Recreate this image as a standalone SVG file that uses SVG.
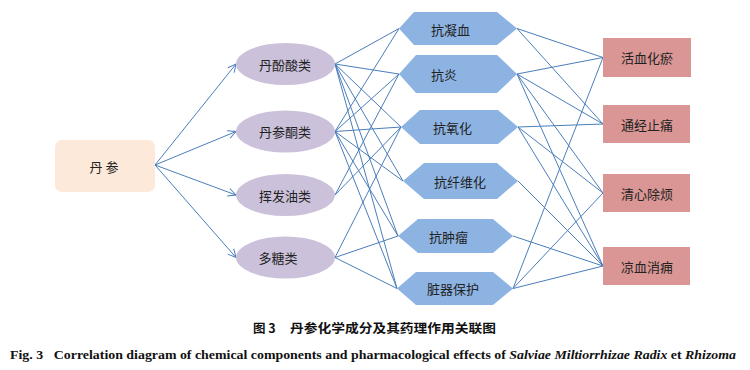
<svg xmlns="http://www.w3.org/2000/svg" width="750" height="370" viewBox="0 0 750 370">
<defs>
<marker id="arr" markerWidth="10" markerHeight="10" refX="9" refY="5" orient="auto" markerUnits="userSpaceOnUse">
<path d="M1,1 L9,5 L1,9" fill="none" stroke="#4a7ebb" stroke-width="1"/>
</marker>
</defs>
<style>
.lbl{font-family:"Noto Sans CJK SC","Noto Sans",sans-serif;font-size:13px;fill:#222;dominant-baseline:central}
.ell{fill:#ccc1da}
.hex{fill:#8db3e2}
.eff{fill:#d99694}
.src{fill:#fde9d9}
.con line{stroke:#4a7ebb;stroke-width:1;fill:none}
.cap{font-weight:bold;fill:#111}
</style>
<rect width="750" height="370" fill="#fff"/>
<g class="con" id="connectors">
<line x1="155" y1="165" x2="236" y2="64" marker-end="url(#arr)"/>
<line x1="155" y1="165" x2="236" y2="131.5" marker-end="url(#arr)"/>
<line x1="155" y1="165" x2="236" y2="195" marker-end="url(#arr)"/>
<line x1="155" y1="165" x2="236" y2="257.5" marker-end="url(#arr)"/>
<line x1="335" y1="64" x2="399" y2="28.5"/>
<line x1="335" y1="64" x2="399" y2="74"/>
<line x1="335" y1="64" x2="401" y2="127"/>
<line x1="335" y1="64" x2="403" y2="181"/>
<line x1="335" y1="64" x2="398" y2="236"/>
<line x1="335" y1="64" x2="397" y2="288.5"/>
<line x1="335" y1="131.5" x2="399" y2="28.5"/>
<line x1="335" y1="131.5" x2="399" y2="74"/>
<line x1="335" y1="131.5" x2="401" y2="127"/>
<line x1="335" y1="131.5" x2="403" y2="181"/>
<line x1="335" y1="131.5" x2="398" y2="236"/>
<line x1="335" y1="131.5" x2="397" y2="288.5"/>
<line x1="335" y1="195" x2="399" y2="74"/>
<line x1="335" y1="195" x2="401" y2="127"/>
<line x1="335" y1="257.5" x2="401" y2="127"/>
<line x1="335" y1="257.5" x2="398" y2="236"/>
<line x1="335" y1="257.5" x2="397" y2="288.5"/>
<line x1="517" y1="28.5" x2="603" y2="57.5"/>
<line x1="517" y1="28.5" x2="603" y2="124"/>
<line x1="517" y1="74" x2="603" y2="57.5"/>
<line x1="517" y1="74" x2="603" y2="124"/>
<line x1="517" y1="74" x2="603" y2="193"/>
<line x1="517" y1="74" x2="603" y2="266"/>
<line x1="518" y1="127" x2="603" y2="124"/>
<line x1="518" y1="127" x2="603" y2="193"/>
<line x1="518" y1="127" x2="603" y2="266"/>
<line x1="518" y1="181" x2="603" y2="266"/>
<line x1="513" y1="236" x2="603" y2="266"/>
<line x1="513" y1="288.5" x2="603" y2="57.5"/>
<line x1="513" y1="288.5" x2="603" y2="193"/>
<line x1="513" y1="288.5" x2="603" y2="266"/>
</g>
<g id="danshen"><rect class="src" x="55" y="140" width="100" height="52" rx="7"/><text class="lbl" x="104" y="166" text-anchor="middle">丹 参</text></g>
<g id="c1"><ellipse class="ell" cx="285.5" cy="64" rx="49.5" ry="21"/><text class="lbl" x="285" y="64" text-anchor="middle">丹酚酸类</text></g>
<g id="c2"><ellipse class="ell" cx="285.5" cy="131.5" rx="49.5" ry="21"/><text class="lbl" x="285" y="131.5" text-anchor="middle">丹参酮类</text></g>
<g id="c3"><ellipse class="ell" cx="285.5" cy="195" rx="49.5" ry="21"/><text class="lbl" x="285" y="195" text-anchor="middle">挥发油类</text></g>
<g id="c4"><ellipse class="ell" cx="285.5" cy="257.5" rx="49.5" ry="21"/><text class="lbl" x="278" y="257.5" text-anchor="middle">多糖类</text></g>
<g id="p1"><polygon class="hex" points="399,28.5 414,12 497,12 517,28.5 497,45 414,45"/><text class="lbl" x="431" y="29">抗凝血</text></g>
<g id="p2"><polygon class="hex" points="399,74 416,55 497,55 517,74 497,93 416,93"/><text class="lbl" x="431" y="74">抗炎</text></g>
<g id="p3"><polygon class="hex" points="401,127 420,110 498,110 518,127 498,144 420,144"/><text class="lbl" x="433" y="127">抗氧化</text></g>
<g id="p4"><polygon class="hex" points="403,181 424,163 497,163 518,181 497,199 424,199"/><text class="lbl" x="434" y="181">抗纤维化</text></g>
<g id="p5"><polygon class="hex" points="398,236 418,219 493,219 513,236 493,253 418,253"/><text class="lbl" x="429" y="236">抗肿瘤</text></g>
<g id="p6"><polygon class="hex" points="397,288.5 416,272 493,272 513,288.5 493,305 416,305"/><text class="lbl" x="427" y="288.5">脏器保护</text></g>
<g id="e1"><rect class="eff" x="603" y="38" width="88" height="39"/><text class="lbl" x="647" y="57.5" text-anchor="middle">活血化瘀</text></g>
<g id="e2"><rect class="eff" x="603" y="105" width="87" height="38"/><text class="lbl" x="647" y="124" text-anchor="middle">通经止痛</text></g>
<g id="e3"><rect class="eff" x="603" y="174" width="87" height="38"/><text class="lbl" x="647" y="193" text-anchor="middle">清心除烦</text></g>
<g id="e4"><rect class="eff" x="603" y="247" width="87" height="38"/><text class="lbl" x="647" y="266" text-anchor="middle">凉血消痈</text></g>
<g id="caption">
<text class="cap" x="253" y="333" font-family="'Noto Sans CJK SC',sans-serif" font-size="12.5">图 3</text>
<text class="cap" x="290" y="333" font-family="'Noto Sans CJK SC',sans-serif" font-size="12.5" textLength="206" lengthAdjust="spacingAndGlyphs">丹参化学成分及其药理作用关联图</text>
<text class="cap" x="10" y="359" font-family="'Liberation Serif',serif" font-size="13" textLength="726" lengthAdjust="spacingAndGlyphs">Fig. 3<tspan dx="10">Correlation diagram of chemical components and pharmacological effects of </tspan><tspan font-style="italic">Salviae Miltiorrhizae Radix</tspan> et <tspan font-style="italic">Rhizoma</tspan></text>
</g>
</svg>
